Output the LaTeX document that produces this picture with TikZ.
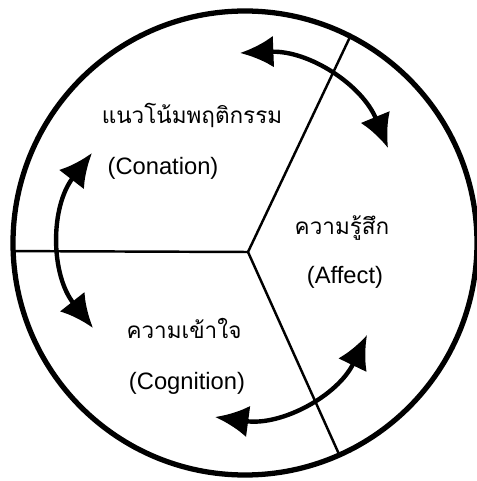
\documentclass[tikz,border=0pt]{standalone}
\usepackage{fontspec}
\setmainfont{Liberation Sans}
\newfontfamily\thaifont[Script=Thai]{Loma}
\usepackage{tikz}
\usetikzlibrary{arrows.meta}
\tikzstyle{ring} = [circle, draw, line width=3pt, minimum size=9.28cm, inner sep=0pt, outer sep=0pt]
\tikzstyle{thai} = [font=\thaifont\fontsize{12.8}{16}\selectfont, inner sep=0pt]
\tikzstyle{eng} = [font=\fontsize{13.5}{16}\selectfont, inner sep=0pt]
\tikzstyle{divider} = [draw, line width=1.4pt]
\tikzstyle{twoway} = [draw, line width=2.5pt, {Latex[length=19pt,width=18pt]}-{Latex[length=19pt,width=18pt]}]

\begin{document}
\begin{tikzpicture}
\useasboundingbox (-4.90,-4.76) rectangle (4.64,4.86);
\node [ring] (ring) at (0,0) {};
\coordinate (hub) at (0.06,-0.18);
\path [divider] (hub) -- (ring.63.7);
\path [divider] (hub) -- (ring.182);
\path [divider] (hub) -- (ring.-66.1);
\node [thai] (conation-th) at (-1.06,2.56) {แนวโน้มพฤติกรรม};
\node [eng] (conation) at (-1.64,1.50) {(Conation)};
\node [thai] (affect-th) at (1.94,0.30) {ความรู้สึก};
\node [eng] (affect) at (2.00,-0.68) {(Affect)};
\node [thai] (cognition-th) at (-1.22,-1.70) {ความเข้าใจ};
\node [eng] (cognition) at (-1.16,-2.80) {(Cognition)};
\coordinate (a1) at (-0.10,3.80);
\coordinate (a2) at (2.86,1.90);
\coordinate (b1) at (-3.06,1.80);
\coordinate (b2) at (-3.04,-1.70);
\coordinate (c1) at (-0.60,-3.48);
\coordinate (c2) at (2.44,-1.84);
\path [twoway] (a1) to[bend left=35] (a2);
\path [twoway] (b1) to[bend right=38] (b2);
\path [twoway] (c1) to[bend right=36] (c2);
\end{tikzpicture}
\end{document}
